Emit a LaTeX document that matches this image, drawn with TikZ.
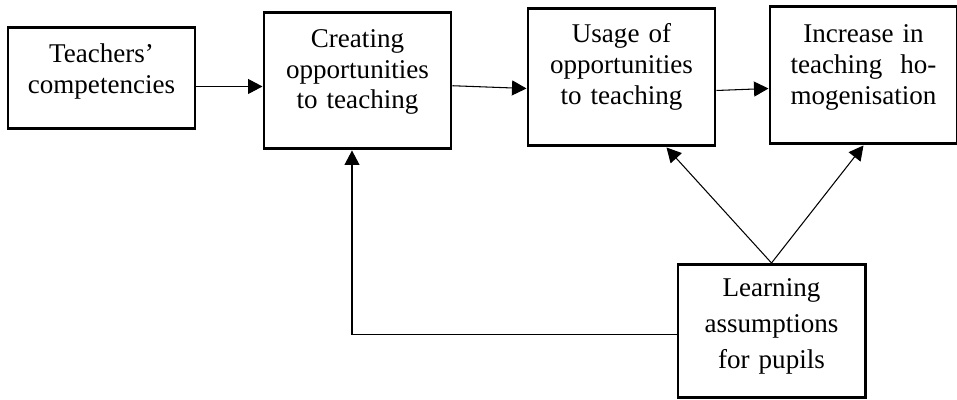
\documentclass[tikz,border=0pt]{standalone}
\usepackage{fontspec}
\setmainfont{Liberation Serif}
\usetikzlibrary{arrows.meta}

\begin{document}
\begin{tikzpicture}[
    box/.style={draw, line width=1.7pt, anchor=north west, inner sep=0pt,
      text width=3.74cm, align=center, font=\fontsize{15.4}{17.5}\selectfont},
    arr/.style={line width=0.6pt, -{Triangle[length=2.9mm,width=3mm]}}
  ]
  \useasboundingbox (0,0) rectangle (19.14,8);
  % boxes
  \node[box, text height=0.70cm, text depth=1.32cm] (teach) at (0.13,7.47) {Teachers’\\competencies};
  \node[box, text height=0.70cm, text depth=2.03cm] (create) at (5.25,7.78) {Creating\\opportunities\\to teaching};
  \node[box, text height=0.68cm, text depth=2.06cm] (usage) at (10.53,7.85) {Usage of\\opportunities\\to teaching};
  \node[box, text height=0.72cm, text depth=2.02cm] (incr) at (15.37,7.89) {Increase in\\teaching~ ho-\\mogenisation};
  \node[box, text height=0.64cm, text depth=2.03cm, font=\fontsize{15.4}{20.4}\selectfont] (learn) at (13.53,2.74) {Learning\\assumptions\\for pupils};
  % arrows
  \draw[arr] ([yshift=-1.6mm]teach.east) -- ([yshift=-1.6mm]teach.east -| create.west);
  \draw[arr] ([yshift=-1mm]create.east) -- ([yshift=-2.2mm]usage.west);
  \draw[arr] ([yshift=-2.6mm]usage.east) -- ([yshift=-2.6mm]incr.west);
  \draw[arr] (learn.north) -- ([xshift=9mm]usage.south);
  \draw[arr] (learn.north) -- (incr.south);
  \draw[arr] ([yshift=-0.6mm]learn.west) -| ([xshift=-1.1mm]create.south);
\end{tikzpicture}
\end{document}
